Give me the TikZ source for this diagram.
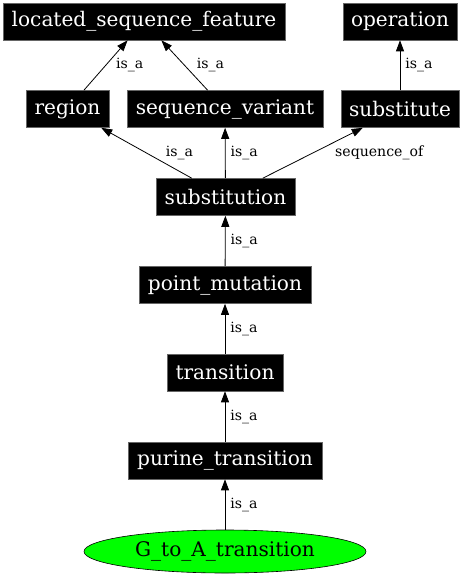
\documentclass[tikz,border=0pt]{standalone}
\usepackage{fontspec}
\setmainfont{DejaVu Serif}
\usetikzlibrary{arrows.meta,shapes.geometric}
\newcommand{\nodefnt}{\fontsize{20.1}{24}\selectfont}
\newcommand{\lblfnt}{\fontsize{14.1}{17}\selectfont}
\begin{document}
\begin{tikzpicture}[x=1pt,y=-1pt,
  term/.style={fill=black, draw=black!60, line width=0.6pt, text=white, font=\nodefnt,
    minimum height=37pt, inner xsep=2pt, inner ysep=0pt},
  leaf/.style={ellipse, fill=green, draw=black, line width=0.6pt, text=black, font=\nodefnt,
    minimum width=282pt, minimum height=43pt, inner sep=0pt},
  rel/.style={draw=black, line width=0.8pt, -{Triangle[length=11pt,width=8pt]}},
  lbl/.style={font=\lblfnt, inner sep=0pt, anchor=west}]
\useasboundingbox (0,0) rectangle (463,576);
\fill[white] (0,0) rectangle (463,576);
\node[term, minimum width=282pt] (lsf) at (144,21.5) {located\_sequence\_feature};
\node[term, minimum width=114pt] (op) at (400,21.5) {operation};
\node[term, minimum width=83pt] (reg) at (67.5,109) {region};
\node[term, minimum width=196pt] (sv) at (225,109) {sequence\_variant};
\node[term, minimum width=118pt] (sub) at (400,109) {substitute};
\node[term, minimum width=139pt] (subst) at (225.5,197) {substitution};
\node[term, minimum width=172pt] (pm) at (225,285) {point\_mutation};
\node[term, minimum width=116pt] (tr) at (225,372.5) {transition};
\node[term, minimum width=194pt] (pt) at (225,460.5) {purine\_transition};
\node[leaf] (ga) at (225,551.5) {G\_to\_A\_transition};
\draw[rel] (reg) -- node[lbl, xshift=10pt] {is\_a} (lsf);
\draw[rel] (sv) -- node[lbl, xshift=12pt] {is\_a} (lsf);
\draw[rel] (sub) -- node[lbl, xshift=5pt] {is\_a} (op);
\draw[rel] (subst) -- node[lbl, xshift=19pt] {is\_a} (reg);
\draw[rel] (subst) -- node[lbl, xshift=5pt] {is\_a} (sv);
\draw[rel] (subst) -- node[lbl, xshift=22pt] {sequence\_of} (sub);
\draw[rel] (pm) -- node[lbl, xshift=5pt] {is\_a} (subst);
\draw[rel] (tr) -- node[lbl, xshift=5pt] {is\_a} (pm);
\draw[rel] (pt) -- node[lbl, xshift=5pt] {is\_a} (tr);
\draw[rel] (ga) -- node[lbl, xshift=5pt] {is\_a} (pt);
\end{tikzpicture}
\end{document}
